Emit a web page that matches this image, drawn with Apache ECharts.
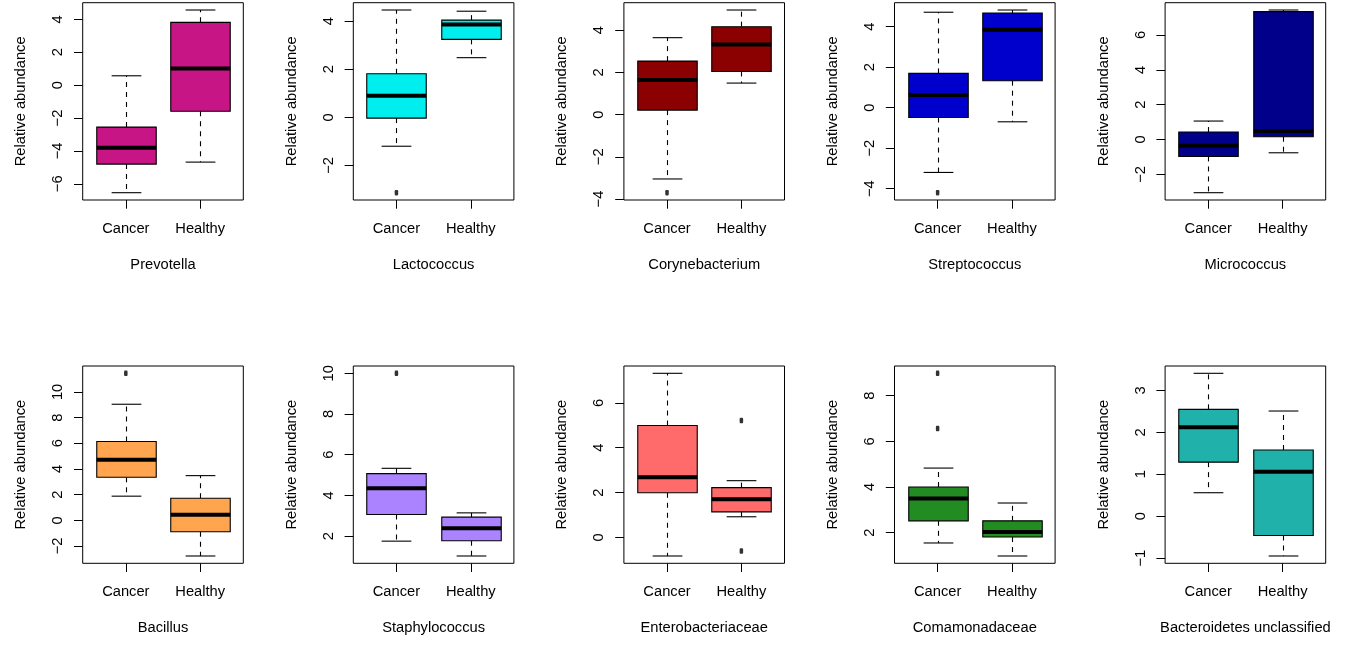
<!DOCTYPE html>
<html>
<head>
<meta charset="utf-8">
<script src="https://cdn.jsdelivr.net/npm/echarts@6/dist/echarts.min.js"></script>
<style>
html,body{margin:0;padding:0;background:#fff;}
#chart{width:1353px;height:650px;}
</style>
</head>
<body>
<div id="chart"></div>
<script>
// ---- data ----
const groups = ['Cancer', 'Healthy'];
const taxa = ['Prevotella', 'Lactococcus', 'Corynebacterium', 'Streptococcus', 'Micrococcus',
  'Bacillus', 'Staphylococcus', 'Enterobacteriaceae', 'Comamonadaceae', 'Bacteroidetes unclassified'];
const fillColors = ['#C71585', '#00EEEE', '#8B0000', '#0000CD', '#00008B',
  '#FFA54F', '#AB82FF', '#FF6A6A', '#228B22', '#20B2AA'];
// [lower whisker, Q1, median, Q3, upper whisker]
const cancerStats = [
  [-6.54, -4.80, -3.81, -2.55, 0.57],
  [-1.20, -0.03, 0.90, 1.81, 4.46],
  [-3.05, 0.21, 1.63, 2.53, 3.64],
  [-3.20, -0.49, 0.62, 1.69, 4.71],
  [-3.05, -0.97, -0.36, 0.43, 1.06],
  [1.88, 3.35, 4.72, 6.14, 9.04],
  [1.75, 3.06, 4.35, 5.07, 5.33],
  [-0.83, 1.99, 2.68, 4.99, 7.32],
  [1.55, 2.52, 3.50, 4.00, 4.83],
  [0.56, 1.29, 2.12, 2.55, 3.41]
];
const healthyStats = [
  [-4.68, -1.59, 1.02, 3.82, 4.57],
  [2.48, 3.24, 3.86, 4.04, 4.41],
  [1.49, 2.04, 3.32, 4.16, 4.95],
  [-0.70, 1.33, 3.84, 4.67, 4.82],
  [-0.76, 0.16, 0.49, 7.34, 7.43],
  [-2.78, -0.89, 0.43, 1.72, 3.48],
  [1.02, 1.77, 2.38, 2.93, 3.14],
  [0.92, 1.14, 1.70, 2.22, 2.53],
  [0.98, 1.81, 2.03, 2.52, 3.30],
  [-0.95, -0.46, 1.06, 1.58, 2.51]
];
const cancerOutliers = [[], [-3.13], [-3.70], [-4.20], [], [11.45], [10.0], [], [8.98, 6.56], []];
const healthyOutliers = [[], [], [], [], [], [], [], [5.21, -0.61], [], []];
const yTicks = [
  [-6, -4, -2, 0, 2, 4],
  [-2, 0, 2, 4],
  [-4, -2, 0, 2, 4],
  [-4, -2, 0, 2, 4],
  [-2, 0, 2, 4, 6],
  [-2, 0, 2, 4, 6, 8, 10],
  [2, 4, 6, 8, 10],
  [0, 2, 4, 6],
  [2, 4, 6, 8],
  [-1, 0, 1, 2, 3]
];
const yTitle = 'Relative abundance';

// ---- layout ----
const FONT = "'Liberation Sans', Arial, Helvetica, sans-serif";
const FS = 14.7;
const colStep = 270.6, left0 = 82.7, plotW = 160.6, plotH = 197.3;
const rowTops = [2.7, 366];

const grids = [], xAxes = [], yAxes = [], series = [];
const fmtNum = v => String(v).replace('-', '\u2212');

taxa.forEach((name, i) => {
  const col = i % 5, row = Math.floor(i / 5);
  grids.push({
    left: left0 + col * colStep, top: rowTops[row], width: plotW, height: plotH,
    show: true, borderColor: '#000', borderWidth: 1, backgroundColor: 'transparent',
    containLabel: false, outerBoundsMode: 'none'
  });
  const all = cancerStats[i].concat(healthyStats[i], cancerOutliers[i], healthyOutliers[i]);
  const dmin = Math.min(...all), dmax = Math.max(...all), pad = 0.04 * (dmax - dmin);
  xAxes.push({
    type: 'value', gridIndex: i, min: 0.42, max: 2.58, position: 'bottom',
    axisLine: { show: false, onZero: false }, splitLine: { show: false },
    axisTick: { show: true, customValues: [1, 2], length: 8.7, lineStyle: { color: '#000', width: 1 } },
    axisLabel: { show: true, customValues: [1, 2], formatter: v => groups[Math.round(v) - 1],
      margin: 21, fontSize: FS, color: '#000', fontFamily: FONT },
    name: name, nameLocation: 'middle', nameGap: 57,
    nameTextStyle: { fontSize: FS, color: '#000', fontFamily: FONT }
  });
  yAxes.push({
    type: 'value', gridIndex: i, min: dmin - pad, max: dmax + pad, position: 'left',
    axisLine: { show: false, onZero: false }, splitLine: { show: false },
    axisTick: { show: true, customValues: yTicks[i], length: 8.7, lineStyle: { color: '#000', width: 1 } },
    axisLabel: { show: true, customValues: yTicks[i], rotate: 90, formatter: fmtNum,
      margin: 17, fontSize: FS, color: '#000', fontFamily: FONT },
    name: yTitle, nameLocation: 'middle', nameRotate: 90, nameGap: 54,
    nameTextStyle: { fontSize: FS, color: '#000', fontFamily: FONT }
  });
  const color = fillColors[i];
  series.push({
    type: 'custom', xAxisIndex: i, yAxisIndex: i, clip: false,
    encode: { x: 0, y: [1, 2, 3, 4, 5] },
    data: [[1].concat(cancerStats[i]), [2].concat(healthyStats[i])],
    renderItem: function (params, api) {
      const x = api.value(0);
      const lo = api.coord([x, api.value(1)]);
      const q1 = api.coord([x, api.value(2)]);
      const md = api.coord([x, api.value(3)]);
      const q3 = api.coord([x, api.value(4)]);
      const hi = api.coord([x, api.value(5)]);
      const hw = api.size([0.4, 0])[0];
      const cw = api.size([0.2, 0])[0];
      const px = Math.round(lo[0]) + 0.5;
      const dash = { stroke: '#000', lineWidth: 1.1, lineDash: [5, 5] };
      const solid = { stroke: '#000', lineWidth: 1.1 };
      return {
        type: 'group',
        children: [
          { type: 'line', shape: { x1: px, y1: q3[1], x2: px, y2: hi[1] }, style: dash },
          { type: 'line', shape: { x1: px, y1: q1[1], x2: px, y2: lo[1] }, style: dash },
          { type: 'line', shape: { x1: px - cw, y1: hi[1], x2: px + cw, y2: hi[1] }, style: solid },
          { type: 'line', shape: { x1: px - cw, y1: lo[1], x2: px + cw, y2: lo[1] }, style: solid },
          { type: 'rect', shape: { x: px - hw, y: q3[1], width: 2 * hw, height: q1[1] - q3[1] },
            style: { fill: color, stroke: '#000', lineWidth: 1.1 } },
          { type: 'line', shape: { x1: px - hw, y1: md[1], x2: px + hw, y2: md[1] },
            style: { stroke: '#000', lineWidth: 4 } }
        ]
      };
    }
  });
  const outs = [];
  cancerOutliers[i].forEach(v => outs.push([1, v]));
  healthyOutliers[i].forEach(v => outs.push([2, v]));
  series.push({
    type: 'scatter', xAxisIndex: i, yAxisIndex: i, data: outs,
    symbol: 'roundRect', symbolSize: [3.5, 5.5], silent: true,
    itemStyle: { color: '#000' }
  });
});

const chart = echarts.init(document.getElementById('chart'), null, { renderer: 'canvas' });
chart.setOption({
  animation: false,
  backgroundColor: '#fff',
  grid: grids, xAxis: xAxes, yAxis: yAxes, series: series,
  // the source figure's last panel title is cut at its figure edge
  graphic: [{ type: 'rect', left: 1336.5, top: 608, shape: { width: 17, height: 35 },
    style: { fill: '#fff' }, z: 100 }]
});
</script>
</body>
</html>
